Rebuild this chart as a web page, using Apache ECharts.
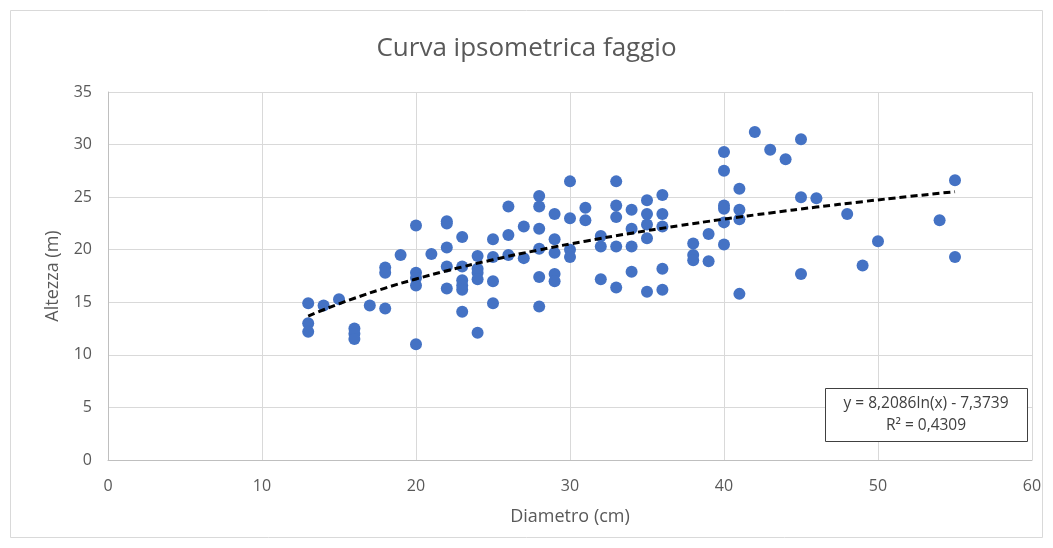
<!DOCTYPE html>
<html>
<head>
<meta charset="utf-8">
<script src="https://cdn.jsdelivr.net/npm/echarts@6/dist/echarts.min.js"></script>
<style>
  html, body { margin: 0; padding: 0; background: #fff; }
  #chart { width: 1053px; height: 548px; }
</style>
</head>
<body>
<div id="chart"></div>
<script>
// diametro (cm) e altezza (m)
const diametro = [
  13, 13, 13, 14, 15, 16, 16, 16, 17, 18, 18, 18, 19,
  20, 20, 20, 20, 20, 21, 22, 22, 22, 22, 22,
  23, 23, 23, 23, 23, 23, 24, 24, 24, 24, 24,
  25, 25, 25, 25, 26, 26, 26, 27, 27,
  28, 28, 28, 28, 28, 28, 29, 29, 29, 29, 29,
  30, 30, 30, 30, 31, 31, 32, 32, 32,
  33, 33, 33, 33, 33, 34, 34, 34, 34,
  35, 35, 35, 35, 35, 36, 36, 36, 36, 36,
  38, 38, 38, 39, 39, 40, 40, 40, 40, 40, 40,
  41, 41, 41, 41, 42, 43, 44, 45, 45, 45, 46, 48, 49, 50, 54, 55, 55
];
const altezza = [
  14.9, 13.0, 12.2, 14.7, 15.3, 12.5, 12.0, 11.5, 14.7, 18.3, 17.8, 14.4, 19.5,
  22.3, 17.8, 17.3, 16.6, 11.0, 19.6, 22.7, 22.5, 20.2, 18.4, 16.3,
  21.2, 18.4, 17.1, 16.6, 16.2, 14.1, 19.4, 18.2, 17.8, 17.2, 12.1,
  21.0, 19.3, 17.0, 14.9, 24.1, 21.4, 19.5, 22.2, 19.2,
  25.1, 24.1, 22.0, 20.1, 17.4, 14.6, 23.4, 21.0, 19.7, 17.7, 17.0,
  26.5, 23.0, 20.0, 19.3, 24.0, 22.8, 21.3, 20.3, 17.2,
  26.5, 24.2, 23.1, 20.3, 16.4, 23.8, 22.0, 20.3, 17.9,
  24.7, 23.4, 22.4, 21.1, 16.0, 25.2, 23.4, 22.2, 18.2, 16.2,
  20.6, 19.5, 19.0, 21.5, 18.9, 29.3, 27.5, 24.2, 23.9, 22.6, 20.5,
  25.8, 23.8, 22.9, 15.8, 31.2, 29.5, 28.6, 30.5, 25.0, 17.7, 24.9, 23.4, 18.5, 20.8, 22.8, 26.6, 19.3
];

// linea di tendenza logaritmica (coefficienti dell'etichetta)
const trendA = 8.2086;
const trendB = -7.3739;
const trendX = [13, 14, 15, 16, 18, 20, 22, 25, 28, 31, 34, 37, 40, 43, 46, 49, 52, 55];
const labelEq = 'y = 8,2086ln(x) - 7,3739';
const labelR2 = 'R² = 0,4309';

const punti = diametro.map(function (d, i) { return [d, altezza[i]]; });
const trend = trendX.map(function (x) { return [x, trendA * Math.log(x) + trendB]; });

const chart = echarts.init(document.getElementById('chart'), null, { renderer: 'canvas' });
const fontFam = '"Open Sans", "Liberation Sans", sans-serif';

const option = {
  backgroundColor: '#fff',
  animation: false,
  title: {
    text: 'Curva ipsometrica faggio',
    left: 'center',
    top: 31,
    textStyle: { fontFamily: fontFam, fontSize: 26, fontWeight: 'normal', color: '#595959' }
  },
  grid: { left: 108, top: 92, right: 21, bottom: 88 },
  xAxis: {
    type: 'value',
    min: 0, max: 60, interval: 10,
    name: 'Diametro (cm)',
    nameLocation: 'middle',
    nameGap: 48,
    nameTextStyle: { fontFamily: fontFam, fontSize: 18, color: '#595959' },
    axisLine: { show: true, onZero: false, lineStyle: { color: '#bfbfbf' } },
    axisTick: { show: false },
    axisLabel: { fontFamily: fontFam, fontSize: 16, color: '#595959', margin: 18 },
    splitLine: { show: true, lineStyle: { color: '#d9d9d9', width: 1 } }
  },
  yAxis: {
    type: 'value',
    min: 0, max: 35, interval: 5,
    name: 'Altezza (m)',
    nameLocation: 'middle',
    nameGap: 46,
    nameTextStyle: { fontFamily: fontFam, fontSize: 18, color: '#595959' },
    axisLine: { show: true, lineStyle: { color: '#bfbfbf' } },
    axisTick: { show: false },
    axisLabel: { fontFamily: fontFam, fontSize: 16, color: '#595959', margin: 16 },
    splitLine: { show: true, lineStyle: { color: '#d9d9d9', width: 1 } }
  },
  series: [
    {
      type: 'scatter',
      data: punti,
      symbol: 'circle',
      symbolSize: 12,
      itemStyle: { color: '#4472c4', opacity: 1 },
      z: 2
    },
    {
      type: 'line',
      data: trend,
      smooth: true,
      showSymbol: false,
      lineStyle: { color: '#000', width: 3, type: [7, 4] },
      z: 3
    }
  ],
  graphic: [
    {
      type: 'rect',
      shape: { x: 10.5, y: 10.5, width: 1032, height: 527 },
      style: { fill: 'none', stroke: '#d9d9d9', lineWidth: 1 },
      silent: true
    },
    {
      type: 'rect',
      z: 10,
      shape: { x: 825.5, y: 388.5, width: 202, height: 53 },
      style: { fill: '#fff', stroke: '#404040', lineWidth: 1 }
    },
    {
      type: 'text',
      z: 11,
      style: {
        text: labelEq, x: 926, y: 396, align: 'center',
        font: '15.5px ' + fontFam, fill: '#404040'
      }
    },
    {
      type: 'text',
      z: 11,
      style: {
        text: labelR2, x: 926, y: 418, align: 'center',
        font: '15.5px ' + fontFam, fill: '#404040'
      }
    }
  ]
};

chart.setOption(option);
</script>
</body>
</html>
